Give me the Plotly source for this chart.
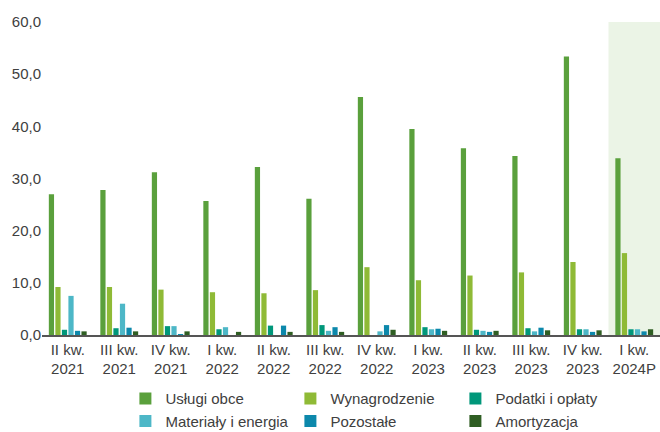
import plotly.graph_objects as go

categories = ["II kw.<br>2021", "III kw.<br>2021", "IV kw.<br>2021", "I kw.<br>2022",
              "II kw.<br>2022", "III kw.<br>2022", "IV kw.<br>2022", "I kw.<br>2023",
              "II kw.<br>2023", "III kw.<br>2023", "IV kw.<br>2023", "I kw.<br>2024P"]

uslugi_obce   = [27.0, 27.8, 31.2, 25.7, 32.2, 26.1, 45.6, 39.5, 35.8, 34.3, 53.4, 33.9]
wynagrodzenie = [9.2, 9.2, 8.7, 8.2, 8.0, 8.6, 13.0, 10.5, 11.4, 12.0, 14.0, 15.7]
podatki       = [1.0, 1.3, 1.7, 1.1, 1.8, 1.9, 0.0, 1.5, 1.0, 1.3, 1.1, 1.1]
materialy     = [7.5, 6.0, 1.7, 1.5, 0.0, 0.8, 0.7, 1.1, 0.8, 0.7, 1.1, 1.1]
pozostale     = [0.8, 1.4, 0.1, 0.0, 1.8, 1.5, 1.9, 1.2, 0.6, 1.4, 0.6, 0.7]
amortyzacja   = [0.7, 0.7, 0.7, 0.6, 0.6, 0.6, 1.0, 0.8, 0.8, 0.9, 0.9, 1.1]

series = [
    ("Usługi obce", uslugi_obce, "#5AA03C"),
    ("Wynagrodzenie", wynagrodzenie, "#8FBA36"),
    ("Podatki i opłaty", podatki, "#00977A"),
    ("Materiały i energia", materialy, "#4DB7C7"),
    ("Pozostałe", pozostale, "#0C88AB"),
    ("Amortyzacja", amortyzacja, "#2F5E23"),
]

fig = go.Figure()
for name, vals, col in series:
    fig.add_trace(go.Bar(x=list(range(len(categories))), y=vals, name=name,
                         marker=dict(color=col, line=dict(width=0))))

fig.add_shape(type="rect", xref="x", yref="y", x0=10.5, x1=11.5, y0=0, y1=60,
              fillcolor="#EBF4E6", line=dict(width=0), layer="below")

font = "Liberation Sans, Arial, sans-serif"
fig.update_layout(
    width=660, height=432,
    margin=dict(l=42, r=0, t=22, b=97, autoexpand=False),
    plot_bgcolor="white", paper_bgcolor="white",
    separators=", ",
    barmode="group", bargap=0.24, bargroupgap=0.2,
    font=dict(family=font, size=15, color="#404040"),
    showlegend=True,
    legend=dict(orientation="h", xref="container", yref="container",
                x=0.19, xanchor="left", y=0.115, yanchor="top",
                entrywidth=120, entrywidthmode="pixels",
                font=dict(size=15, color="#404040"), itemwidth=30,
                tracegroupgap=0, traceorder="normal"),
    xaxis=dict(tickmode="array", tickvals=list(range(len(categories))), ticktext=categories,
               range=[-0.5, 11.5], showline=True, linecolor="#555555", linewidth=1.5,
               ticks="", showgrid=False, zeroline=False, tickfont=dict(size=15),
               automargin=False),
    yaxis=dict(range=[0, 60], dtick=10, tickformat=".1f", showgrid=False,
               zeroline=False, showline=False, ticks="", tickfont=dict(size=15),
               automargin=False),
)

fig.write_html("out.html", config={"displayModeBar": False},
               post_script="document.body.style.margin='0';document.body.style.overflow='hidden';")
